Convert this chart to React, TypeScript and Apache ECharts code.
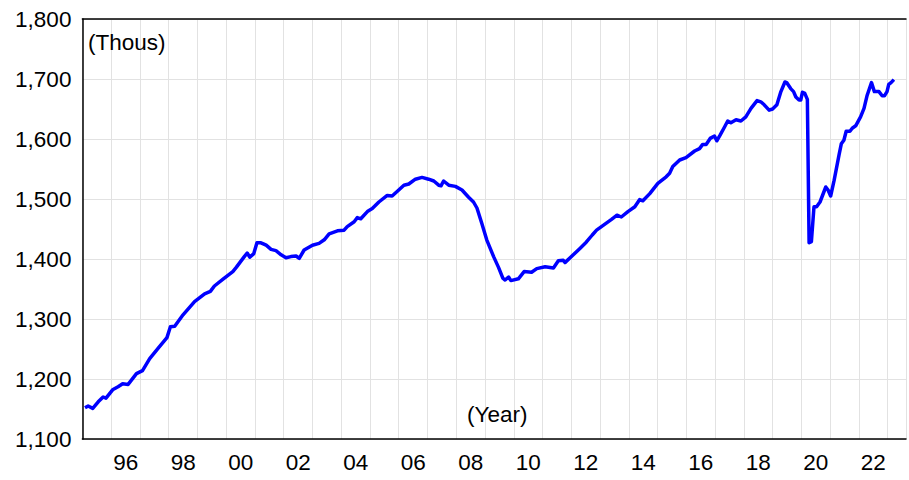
import React, { useEffect, useRef } from "react";
import * as echarts from "echarts";

// Decimal-year time of each reading
const times: number[] = [
  1995.09, 1995.2, 1995.36, 1995.55, 1995.72, 1995.82, 1996.05, 1996.24, 1996.4, 1996.59,
  1996.88, 1997.09, 1997.34, 1997.63, 1997.94, 1998.06, 1998.21, 1998.5, 1998.9, 1999.25,
  1999.45, 1999.59, 1999.88, 2000.23, 2000.35, 2000.63, 2000.73, 2000.82, 2000.96, 2001.07,
  2001.21, 2001.39, 2001.56, 2001.73, 2001.91, 2002.08, 2002.25, 2002.43, 2002.54, 2002.71,
  2003.0, 2003.23, 2003.41, 2003.58, 2003.87, 2004.1, 2004.21, 2004.45, 2004.56, 2004.68,
  2004.91, 2005.08, 2005.31, 2005.6, 2005.77, 2006.0, 2006.18, 2006.35, 2006.58, 2006.81,
  2007.04, 2007.22, 2007.39, 2007.47, 2007.56, 2007.74, 2007.97, 2008.2, 2008.43, 2008.6,
  2008.72, 2008.89, 2009.06, 2009.3, 2009.47, 2009.62, 2009.7, 2009.82, 2009.9, 2010.16,
  2010.36, 2010.62, 2010.8, 2011.09, 2011.38, 2011.55, 2011.72, 2011.78, 2012.07, 2012.31,
  2012.52, 2012.73, 2012.88, 2013.11, 2013.4, 2013.59, 2013.74, 2013.97, 2014.21, 2014.38,
  2014.49, 2014.73, 2015.01, 2015.3, 2015.42, 2015.53, 2015.77, 2015.99, 2016.29, 2016.46,
  2016.57, 2016.69, 2016.83, 2016.98, 2017.06, 2017.17, 2017.33, 2017.44, 2017.55, 2017.73,
  2017.9, 2018.07, 2018.25, 2018.46, 2018.59, 2018.71, 2018.88, 2019.0, 2019.15, 2019.29,
  2019.43, 2019.49, 2019.63, 2019.73, 2019.81, 2019.92, 2019.98, 2020.04, 2020.12, 2020.21,
  2020.27, 2020.35, 2020.44, 2020.53, 2020.65, 2020.85, 2020.93, 2021.02, 2021.14, 2021.31,
  2021.39, 2021.48, 2021.56, 2021.69, 2021.77, 2021.89, 2022.06, 2022.18, 2022.29, 2022.44,
  2022.54, 2022.7, 2022.81, 2022.89, 2022.98, 2023.04, 2023.12, 2023.22,
];

// Values (thousands)
const values: number[] = [
  1152, 1155, 1151, 1162, 1170, 1168, 1182, 1187, 1192, 1191,
  1209, 1214, 1234, 1251, 1269, 1287, 1288, 1307, 1329, 1342,
  1346, 1355, 1366, 1379, 1386, 1404, 1410, 1403, 1409, 1427,
  1427, 1423, 1416, 1414, 1407, 1402, 1404, 1405, 1401, 1415,
  1423, 1426, 1432, 1442, 1447, 1448, 1454, 1462, 1469, 1467,
  1479, 1484, 1495, 1506, 1505, 1515, 1523, 1525, 1533, 1536,
  1533, 1530, 1523, 1522, 1530, 1523, 1521, 1515, 1503, 1495,
  1485, 1459, 1432, 1404, 1386, 1368, 1365, 1370, 1364, 1367,
  1379, 1378, 1384, 1387, 1385, 1397, 1398, 1394, 1407, 1418,
  1428, 1440, 1448, 1456, 1466, 1473, 1470, 1479, 1487, 1499,
  1497, 1509, 1526, 1537, 1543, 1554, 1565, 1569, 1580, 1584,
  1591, 1591, 1601, 1605, 1597, 1606, 1620, 1630, 1627, 1632,
  1630, 1637, 1651, 1664, 1662, 1657, 1648, 1650, 1657, 1679,
  1695, 1694, 1684, 1679, 1670, 1665, 1665, 1678, 1676, 1666,
  1427, 1429, 1487, 1487, 1495, 1520, 1515, 1505, 1531, 1573,
  1592, 1598, 1613, 1613, 1618, 1622, 1637, 1651, 1673, 1694,
  1679, 1679, 1672, 1672, 1679, 1691, 1694, 1699,
];

// Tick labels shown on the x axis (two-digit years, every other year)
const xTickYears: number[] = [1996, 1998, 2000, 2002, 2004, 2006, 2008, 2010, 2012, 2014, 2016, 2018, 2020, 2022];

const yMin = 1100;
const yMax = 1800;
const yStep = 100;
const xMin = 1995;
const xMax = 2023.64;

const unitLabel = "(Thous)";
const xAxisLabel = "(Year)";

const FONT = "'Liberation Sans', Arial, sans-serif";

export default function App() {
  const ref = useRef<HTMLDivElement>(null);

  useEffect(() => {
    if (!ref.current) return;
    const chart = echarts.init(ref.current, undefined, { renderer: "svg" });
    const data = times.map((t, i) => [t, values[i]]);
    chart.setOption({
      animation: false,
      backgroundColor: "#ffffff",
      grid: { left: 82.4, right: 0, top: 19, bottom: 41, containLabel: false },
      xAxis: [
        {
          type: "value",
          min: xMin,
          max: xMax,
          interval: 1,
          position: "bottom",
          axisLine: { show: true, onZero: false, lineStyle: { color: "#000", width: 1.5 } },
          axisTick: { show: false },
          splitLine: { show: true, lineStyle: { color: "#e2e2e2", width: 1 } },
          axisLabel: {
            show: true,
            color: "#000",
            fontFamily: FONT,
            fontSize: 22.5,
            margin: 12,
            padding: [0, 0, 0, 29],
            showMinLabel: true,
            showMaxLabel: true,
            formatter: (v: number) => {
              const r = Math.round(v);
              if (Math.abs(v - r) > 1e-6) return "";
              if (xTickYears.indexOf(r) < 0) return "";
              return String(r % 100).padStart(2, "0");
            },
          },
        },
        {
          type: "value",
          min: xMin,
          max: xMax,
          position: "top",
          axisLine: { show: true, onZero: false, lineStyle: { color: "#000", width: 1.5 } },
          axisTick: { show: false },
          axisLabel: { show: false },
          splitLine: { show: false },
        },
      ],
      yAxis: {
        type: "value",
        min: yMin,
        max: yMax,
        interval: yStep,
        axisLine: { show: true, onZero: false, lineStyle: { color: "#000", width: 1.5 } },
        axisTick: { show: false },
        splitLine: { show: true, lineStyle: { color: "#e2e2e2", width: 1 } },
        axisLabel: {
          color: "#000",
          fontFamily: FONT,
          fontSize: 22.5,
          margin: 11,
          formatter: (v: number) => v.toLocaleString("en-US"),
        },
      },
      series: [
        {
          type: "line",
          xAxisIndex: 0,
          data,
          showSymbol: false,
          symbol: "none",
          lineStyle: { color: "#0000ff", width: 3.5, join: "round" },
          z: 5,
        },
      ],
      graphic: [
        {
          type: "text",
          left: 88,
          top: 31,
          style: { text: unitLabel, fill: "#000", font: `22.5px ${FONT}` },
          z: 10,
        },
        {
          type: "text",
          left: 467,
          top: 403,
          style: { text: xAxisLabel, fill: "#000", font: `22.5px ${FONT}` },
          z: 10,
        },
      ],
    });
    return () => chart.dispose();
  }, []);

  return (
    <div
      ref={ref}
      style={{ position: "fixed", left: 0, top: 0, width: 909, height: 480, background: "#fff" }}
    />
  );
}
